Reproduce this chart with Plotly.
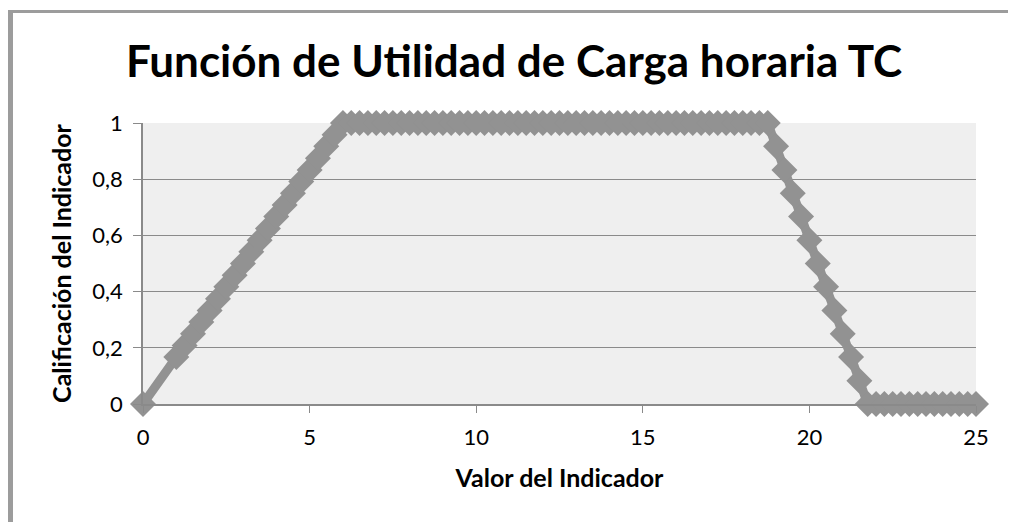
import plotly.graph_objects as go

title_text = "Función de Utilidad de Carga horaria TC"
x_title = "Valor del Indicador"
y_title = "Calificación del Indicador"

x_values = [
    0,
    1, 1.25, 1.5, 1.75, 2, 2.25, 2.5, 2.75, 3, 3.25, 3.5, 3.75, 4, 4.25, 4.5, 4.75,
    5, 5.25, 5.5, 5.75, 6,
    6.25, 6.5, 6.75, 7, 7.25, 7.5, 7.75, 8, 8.25, 8.5, 8.75, 9, 9.25, 9.5, 9.75,
    10, 10.25, 10.5, 10.75, 11, 11.25, 11.5, 11.75, 12, 12.25, 12.5, 12.75,
    13, 13.25, 13.5, 13.75, 14, 14.25, 14.5, 14.75, 15, 15.25, 15.5, 15.75,
    16, 16.25, 16.5, 16.75, 17, 17.25, 17.5, 17.75, 18, 18.25, 18.5, 18.75,
    19, 19.25, 19.5, 19.75, 20, 20.25, 20.5, 20.75, 21, 21.25, 21.5,
    21.75,
    22, 22.25, 22.5, 22.75, 23, 23.25, 23.5, 23.75, 24, 24.25, 24.5, 24.75, 25,
]

y_values = [
    0,
    0.167, 0.208, 0.25, 0.292, 0.333, 0.375, 0.417, 0.458, 0.5, 0.542, 0.583, 0.625,
    0.667, 0.708, 0.75, 0.792, 0.833, 0.875, 0.917, 0.958, 1,
    1, 1, 1, 1, 1, 1, 1, 1, 1, 1, 1, 1, 1, 1, 1,
    1, 1, 1, 1, 1, 1, 1, 1, 1, 1, 1, 1,
    1, 1, 1, 1, 1, 1, 1, 1, 1, 1, 1, 1,
    1, 1, 1, 1, 1, 1, 1, 1, 1, 1, 1, 1,
    0.917, 0.833, 0.75, 0.667, 0.583, 0.5, 0.417, 0.333, 0.25, 0.167, 0.083,
    0,
    0, 0, 0, 0, 0, 0, 0, 0, 0, 0, 0, 0, 0,
]

x_ticks = [0, 5, 10, 15, 20, 25]
y_ticks = [0, 0.2, 0.4, 0.6, 0.8, 1]
y_tick_labels = ["0", "0,2", "0,4", "0,6", "0,8", "1"]

FONT = "Lato"
GRAY = "#929292"
GRID = "#8a8a8a"
FRAME = "#9c9c9c"

# page has an 8px body margin; figure sized to fit the 1016x522 window
OFF = 8
W, H = 1016 - OFF, 522 - OFF
# plot area in window pixels
PX0, PX1, PY0, PY1 = 143, 976, 123, 404
L, T = PX0 - OFF, PY0 - OFF
PW, PH = PX1 - PX0, PY1 - PY0
R, B = W - L - PW, H - T - PH


def px_x(wx):
    return (wx - OFF - L) / PW


def px_y(wy):
    return (T + PH - (wy - OFF)) / PH


fig = go.Figure()
fig.add_trace(go.Scatter(
    x=x_values, y=y_values, mode="lines+markers",
    line=dict(color=GRAY, width=9),
    marker=dict(symbol="diamond", size=20, color=GRAY),
    cliponaxis=False, showlegend=False, hoverinfo="x+y",
))

shapes = [
    dict(type="rect", xref="paper", yref="paper", x0=px_x(8), x1=px_x(13),
         y0=px_y(540), y1=px_y(10), fillcolor=FRAME, line=dict(width=0), layer="above"),
    dict(type="rect", xref="paper", yref="paper", x0=px_x(8), x1=px_x(1016),
         y0=px_y(13), y1=px_y(10), fillcolor=FRAME, line=dict(width=0), layer="above"),
    dict(type="line", xref="paper", yref="paper", x0=px_x(1014), x1=px_x(1014),
         y0=px_y(13), y1=px_y(540), line=dict(color=FRAME, width=1.5), layer="above"),
]

fig.update_layout(
    width=W, height=H,
    margin=dict(l=L, r=R, t=T, b=B, pad=0),
    paper_bgcolor="white",
    plot_bgcolor="#efefef",
    separators=", ",
    font=dict(family=FONT, color="black"),
    title=dict(text="<b>" + title_text + "</b>", x=(514 - OFF) / W, xanchor="center",
               y=1 - (62 - OFF) / H, yanchor="middle",
               font=dict(family=FONT, size=44, color="black")),
    shapes=shapes,
    xaxis=dict(
        range=[0, 25], tickvals=x_ticks, ticktext=[str(v) for v in x_ticks],
        showgrid=False, zeroline=False,
        showline=True, linecolor=GRID, linewidth=1.5,
        ticks="outside", ticklen=7, tickcolor=GRID, tickwidth=1,
        ticklabelstandoff=6,
        tickfont=dict(family=FONT, size=22, color="black"),
        title=dict(text="<b>" + x_title + "</b>", standoff=20,
                   font=dict(family=FONT, size=25, color="black")),
        automargin=False,
    ),
    yaxis=dict(
        range=[0, 1], tickvals=y_ticks, ticktext=y_tick_labels,
        showgrid=True, gridcolor=GRID, gridwidth=1.3, zeroline=False,
        showline=True, linecolor=GRID, linewidth=1.5,
        ticks="outside", ticklen=8, tickcolor=GRID, tickwidth=1,
        ticklabelstandoff=6,
        tickfont=dict(family=FONT, size=22, color="black"),
        title=dict(text="<b>" + y_title + "</b>", standoff=14,
                   font=dict(family=FONT, size=25, color="black")),
        automargin=False,
    ),
)

fig.write_html("out.html")
